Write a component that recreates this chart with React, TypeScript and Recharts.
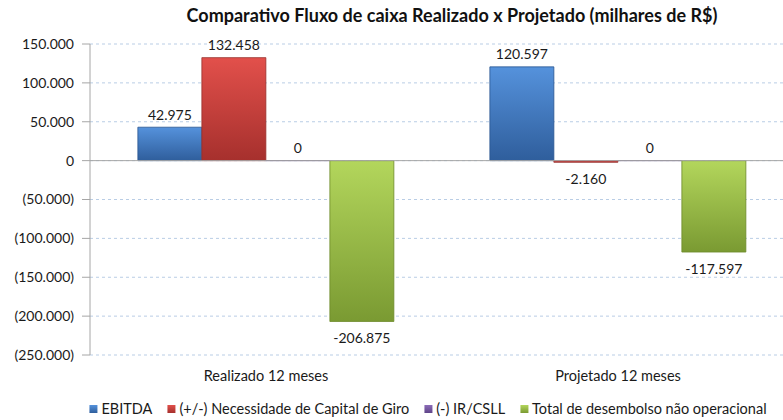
import React from "react";
import {
  BarChart,
  Bar,
  XAxis,
  YAxis,
  CartesianGrid,
  ReferenceLine,
  LabelList,
} from "recharts";

const categories = ["Realizado 12 meses", "Projetado 12 meses"];
const ebitda = [42975, 120597];
const capitalGiro = [132458, -2160];
const irCsll = [0, 0];
const desembolso = [-206875, -117597];
const yTicks = [150000, 100000, 50000, 0, -50000, -100000, -150000, -200000, -250000];

const series = [
  { key: "ebitda", name: "EBITDA", top: "#5592dc", bottom: "#2f5e9c", edge: "#2a5590" },
  { key: "giro", name: "(+/-) Necessidade de Capital de Giro", top: "#e2504b", bottom: "#a6302d", edge: "#98302c" },
  { key: "ir", name: "(-) IR/CSLL", top: "#8c6cb8", bottom: "#5f4488", edge: "#5a4080" },
  { key: "desemb", name: "Total de desembolso não operacional", top: "#b3d65c", bottom: "#7a9a32", edge: "#6d8a2a" },
];

const data = categories.map((c, i) => ({
  name: c,
  ebitda: ebitda[i],
  giro: capitalGiro[i],
  ir: irCsll[i],
  desemb: desembolso[i],
}));

const FONT = "Lato, 'Liberation Sans', sans-serif";

const thousands = (n: number) =>
  String(Math.round(Math.abs(n))).replace(/\B(?=(\d{3})+(?!\d))/g, ".");

const axisFmt = (v: number) => (v < 0 ? `(${thousands(v)})` : thousands(v));
const labelFmt = (v: number) => (v < 0 ? `-${thousands(v)}` : thousands(v));

const BarLabel = (props: any) => {
  const { x, y, width, height, value } = props;
  const top = Math.min(y, y + height);
  const bottom = Math.max(y, y + height);
  const cy = value < 0 ? bottom + 16 : top - 13;
  return (
    <text
      x={x + width / 2}
      y={cy}
      textAnchor="middle"
      dominantBaseline="central"
      fontFamily={FONT}
      fontSize={14}
      fill="#1a1a1a"
    >
      {labelFmt(value)}
    </text>
  );
};

export default function App() {
  return (
    <div
      style={{
        position: "absolute",
        left: 0,
        top: 0,
        width: 783,
        height: 420,
        overflow: "hidden",
        background: "#fff",
        fontFamily: FONT,
      }}
    >
      <div
        style={{
          position: "absolute",
          left: 452,
          top: 3,
          transform: "translateX(-50%)",
          whiteSpace: "nowrap",
          fontWeight: 700,
          fontSize: 18,
          color: "#111",
          lineHeight: "24px",
        }}
      >
        Comparativo Fluxo de caixa Realizado x Projetado (milhares de R$)
      </div>
      <BarChart
        width={800}
        height={420}
        data={data}
        margin={{ top: 44, right: 6, bottom: 35, left: 0 }}
        barCategoryGap="13.6%"
        barGap={0}
      >
        <defs>
          {series.map((s) => (
            <linearGradient key={s.key} id={`g-${s.key}`} x1="0" y1="0" x2="0" y2="1">
              <stop offset="0%" stopColor={s.top} />
              <stop offset="100%" stopColor={s.bottom} />
            </linearGradient>
          ))}
        </defs>
        <CartesianGrid vertical={false} stroke="#b9cde5" strokeDasharray="3 3" />
        <XAxis
          dataKey="name"
          axisLine={false}
          tickLine={false}
          tickSize={0}
          tickMargin={16}
          height={30}
          tick={{ fontFamily: FONT, fontSize: 14.5, fill: "#1a1a1a" }}
        />
        <YAxis
          width={90}
          domain={[-250000, 150000]}
          ticks={yTicks}
          interval={0}
          tickFormatter={axisFmt}
          axisLine={{ stroke: "#a6a6a6" }}
          tickLine={{ stroke: "#a6a6a6" }}
          tickSize={8}
          tickMargin={8}
          tick={{ fontFamily: FONT, fontSize: 14, fill: "#1a1a1a" }}
        />
        <ReferenceLine y={0} stroke="#a6a6a6" />
        {series.map((s) => (
          <Bar
            key={s.key}
            dataKey={s.key}
            name={s.name}
            fill={`url(#g-${s.key})`}
            stroke={s.edge}
            strokeWidth={0.8}
            minPointSize={0.1}
            isAnimationActive={false}
          >
            <LabelList dataKey={s.key} content={BarLabel} />
          </Bar>
        ))}
      </BarChart>
      <div
        style={{
          position: "absolute",
          left: 428,
          top: 399,
          transform: "translateX(-50%)",
          display: "flex",
          alignItems: "center",
          whiteSpace: "nowrap",
          fontSize: 14.5,
          color: "#1a1a1a",
          lineHeight: "20px",
        }}
      >
        {series.map((s, i) => (
          <span
            key={s.key}
            style={{ display: "flex", alignItems: "center", marginLeft: i === 0 ? 0 : 15 }}
          >
            <span
              style={{
                display: "inline-block",
                width: 8,
                height: 8,
                marginRight: 4,
                background: `linear-gradient(${s.top}, ${s.bottom})`,
              }}
            />
            {s.name}
          </span>
        ))}
      </div>
    </div>
  );
}
